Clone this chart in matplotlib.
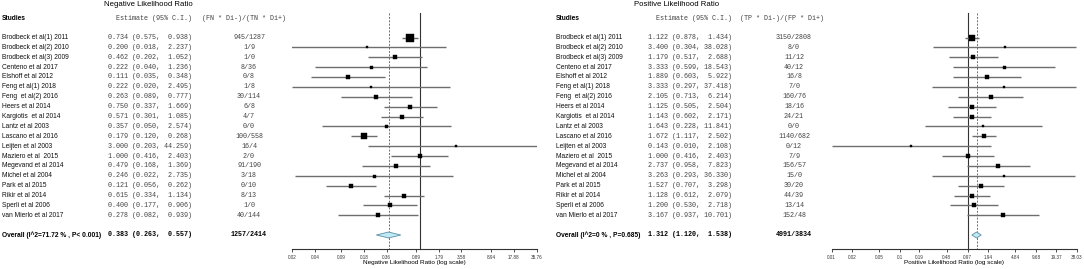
import matplotlib
matplotlib.use("Agg")
import matplotlib.pyplot as plt
from matplotlib.transforms import blended_transform_factory
from matplotlib.patches import Polygon

studies = ["Brodbeck et al(1) 2011", "Brodbeck et al(2) 2010", "Brodbeck et al(3) 2009",
           "Centeno et al 2017", "Elshoff et al 2012", "Feng et al(1) 2018", "Feng  et al(2) 2016",
           "Heers et al 2014", "Kargiotis  et al 2014", "Lantz et al 2003", "Lascano et al 2016",
           "Leijten et al 2003", "Maziero et al  2015", "Megevand et al 2014", "Michel et al 2004",
           "Park et al 2015", "Rikir et al 2014", "Sperli et al 2006", "van Mierlo et al 2017"]

neg_est = [0.734, 0.200, 0.462, 0.222, 0.111, 0.222, 0.263, 0.750, 0.571, 0.357, 0.179, 3.000,
           1.000, 0.479, 0.246, 0.121, 0.615, 0.400, 0.278]
neg_lo = [0.575, 0.018, 0.202, 0.040, 0.035, 0.020, 0.089, 0.337, 0.301, 0.050, 0.120, 0.203,
          0.416, 0.168, 0.022, 0.056, 0.334, 0.177, 0.082]
neg_hi = [0.938, 2.237, 1.052, 1.236, 0.348, 2.495, 0.777, 1.669, 1.085, 2.574, 0.268, 44.259,
          2.403, 1.369, 2.735, 0.262, 1.134, 0.906, 0.939]
neg_counts = ["945/1287", "1/9", "1/0", "8/36", "0/8", "1/8", "30/114", "6/8", "4/7", "0/0",
              "100/558", "16/4", "2/0", "91/190", "3/18", "0/10", "8/13", "1/0", "40/144"]
neg_weight = [7.3, 2.7, 4.3, 3.0, 3.7, 2.7, 4.0, 4.3, 4.7, 3.0, 5.7, 2.7, 4.3, 4.0, 3.0, 4.7, 4.7, 4.3, 4.0]
neg_overall = (0.383, 0.263, 0.557)
neg_overall_label = "Overall (I^2=71.72 % , P< 0.001)"
neg_overall_counts = "1257/2414"
neg_ticks = [0.02, 0.04, 0.09, 0.18, 0.36, 0.89, 1.79, 3.58, 8.94, 17.88, 35.76]
neg_ticklabels = ["0.02", "0.04", "0.09", "0.18", "0.36", "0.89", "1.79", "3.58", "8.94", "17.88", "35.76"]

pos_est = [1.122, 3.400, 1.179, 3.333, 1.889, 3.333, 2.105, 1.125, 1.143, 1.643, 1.672, 0.143,
           1.000, 2.737, 3.263, 1.527, 1.128, 1.200, 3.167]
pos_lo = [0.878, 0.304, 0.517, 0.599, 0.603, 0.297, 0.713, 0.505, 0.602, 0.228, 1.117, 0.010,
          0.416, 0.958, 0.293, 0.707, 0.612, 0.530, 0.937]
pos_hi = [1.434, 38.028, 2.688, 18.543, 5.922, 37.418, 6.214, 2.504, 2.171, 11.841, 2.502, 2.108,
          2.403, 7.823, 36.330, 3.298, 2.079, 2.718, 10.701]
pos_counts = ["3150/2808", "8/0", "11/12", "40/12", "16/8", "7/0", "160/76", "18/16", "24/21", "0/0",
              "1140/682", "0/12", "7/9", "156/57", "15/0", "30/20", "44/39", "13/14", "152/48"]
pos_weight = [6.0, 2.7, 4.0, 3.0, 3.7, 2.7, 3.7, 4.0, 4.3, 2.7, 5.0, 2.7, 4.0, 3.7, 2.7, 4.0, 4.3, 4.0, 3.3]
pos_overall = (1.312, 1.120, 1.538)
pos_overall_label = "Overall (I^2=0 % , P=0.685)"
pos_overall_counts = "4991/3834"
pos_ticks = [0.01, 0.02, 0.05, 0.1, 0.19, 0.48, 0.97, 1.94, 4.84, 9.68, 19.37, 38.03]
pos_ticklabels = ["0.01", "0.02", "0.05", "0.1", "0.19", "0.48", "0.97", "1.94", "4.84", "9.68", "19.37", "38.03"]

W, H = 1084, 269
fig = plt.figure(figsize=(W / 100, H / 100), dpi=100)

SANS = ["Liberation Sans", "DejaVu Sans"]
MONO = ["Liberation Mono", "DejaVu Sans Mono"]
ROW0, DROW = 37.5, 9.875   # pixel y of first row, row spacing
AXIS_Y = 249

def fx(px):
    return px / W

def fy(py):
    return 1 - py / H

def panel(off, title, title_cx, est_x, hdr_est_x, cnt_hdr_x, cnt_cx, ax_l, ax_r,
          est, lo, hi, counts, weight, overall, ov_label, ov_counts, ticks, ticklabels,
          cnt_header, xlabel, xlim):
    n = len(studies)
    ov_row = n + 1
    top_row = -ROW0 / DROW
    bot_row = (AXIS_Y - ROW0) / DROW
    ax = fig.add_axes([fx(ax_l), fy(AXIS_Y), fx(ax_r - ax_l), AXIS_Y / H])
    ax.set_xscale("log")
    ax.set_xlim(*xlim)
    ax.set_ylim(bot_row, top_row)
    for s in ["top", "right", "left"]:
        ax.spines[s].set_visible(False)
    ax.spines["bottom"].set_linewidth(0.8)
    ax.spines["bottom"].set_color("#333333")
    ax.set_yticks([])
    ax.set_xticks(ticks)
    ax.set_xticklabels(ticklabels)
    ax.minorticks_off()
    ax.tick_params(axis="x", direction="out", length=2.5, width=0.6, pad=1.5,
                   labelsize=3.3, colors="#333333")
    for lab in ax.get_xticklabels():
        lab.set_family(SANS)
    ax.set_xlabel(xlabel, fontsize=4.6, family=SANS, labelpad=0.5)
    ax.patch.set_alpha(0)

    line_top = (13 - ROW0) / DROW
    ax.plot([1, 1], [line_top, bot_row], color="#333333", lw=0.8, zorder=1, clip_on=False)
    ax.plot([overall[0], overall[0]], [line_top, bot_row], color="#ff3030", lw=0.7,
            ls=(0, (2, 1.5)), zorder=1, clip_on=False)

    for i in range(n):
        ax.plot([lo[i], hi[i]], [i, i], color="#6e6e6e", lw=1.0, zorder=2, solid_capstyle="butt")
        ax.plot([est[i]], [i], marker="s", color="black", ms=weight[i] * 0.72, mew=0.3,
                mec="black", zorder=3)

    h = 0.3
    dia = Polygon([(overall[1], ov_row), (overall[0], ov_row - h), (overall[2], ov_row),
                   (overall[0], ov_row + h)], closed=True, facecolor="#bfeaf5",
                  edgecolor="#5a8fa3", lw=0.6, zorder=3)
    ax.add_patch(dia)

    tr = blended_transform_factory(fig.transFigure, ax.transData)
    fig.text(fx(title_cx), fy(5), title, ha="center", va="center", fontsize=5.6, family=SANS)
    fig.text(fx(off + 2), fy(19), "Studies", ha="left", va="center", fontsize=4.8,
             family=SANS, weight="bold")
    fig.text(fx(hdr_est_x), fy(19), "Estimate (95% C.I.)", ha="left", va="center",
             fontsize=4.9, family=MONO, color="#444444")
    fig.text(fx(cnt_hdr_x), fy(19), cnt_header, ha="left", va="center",
             fontsize=4.9, family=MONO, color="#444444")
    for i in range(n):
        ax.text(fx(off + 2), i, studies[i], transform=tr, ha="left", va="center",
                fontsize=4.8, family=SANS, color="#111111")
        ax.text(fx(est_x), i, "%5.3f (%5.3f, %6.3f)" % (est[i], lo[i], hi[i]), transform=tr,
                ha="left", va="center", fontsize=4.9, family=MONO, color="#444444")
        ax.text(fx(cnt_cx), i, counts[i], transform=tr, ha="center", va="center",
                fontsize=4.9, family=MONO, color="#444444")
    ax.text(fx(off + 2), ov_row, ov_label, transform=tr, ha="left", va="center",
            fontsize=4.8, family=SANS, weight="bold")
    ax.text(fx(est_x), ov_row, "%5.3f (%5.3f, %6.3f)" % overall, transform=tr,
            ha="left", va="center", fontsize=4.9, family=MONO, weight="bold")
    ax.text(fx(cnt_cx), ov_row, ov_counts, transform=tr, ha="center", va="center",
            fontsize=4.9, family=MONO, weight="bold")
    return ax

panel(0, "Negative Likelihood Ratio", 148, 108, 116, 201.5, 249, 292.3, 536.5,
      neg_est, neg_lo, neg_hi, neg_counts, neg_weight, neg_overall, neg_overall_label,
      neg_overall_counts, neg_ticks, neg_ticklabels, "(FN * Di-)/(TN * Di+)",
      "Negative Likelihood Ratio (log scale)", (0.02, 35.76))
panel(540 + 14, "Positive Likelihood Ratio", 677, 648.3, 656, 740, 794, 831.7, 1076.5,
      pos_est, pos_lo, pos_hi, pos_counts, pos_weight, pos_overall, pos_overall_label,
      pos_overall_counts, pos_ticks, pos_ticklabels, "(TP * Di-)/(FP * Di+)",
      "Positive Likelihood Ratio (log scale)", (0.01, 38.03))

fig.savefig("out.png", dpi=100)
